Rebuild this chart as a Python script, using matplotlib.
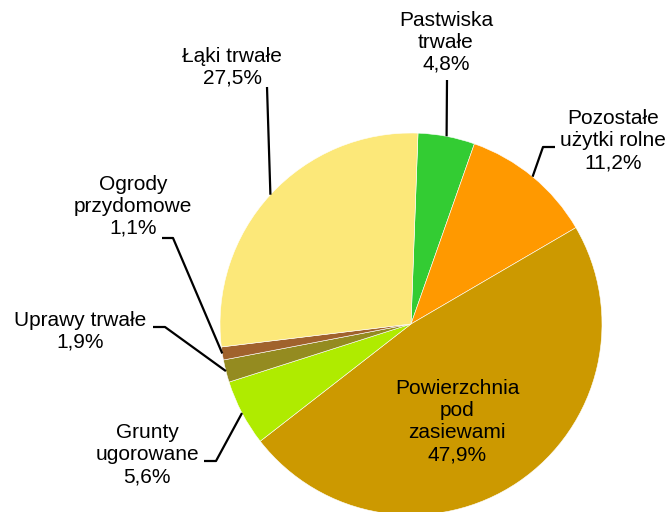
import numpy as np
import matplotlib
matplotlib.use("Agg")
import matplotlib.pyplot as plt

plt.rcParams['font.family'] = ['Liberation Sans', 'DejaVu Sans']

# udzial w powierzchni (%), kolejnosc zgodnie z ruchem wskazowek zegara od gory
labels = ["Pastwiska\ntrwałe", "Pozostałe\nużytki rolne", "Powierzchnia\npod\nzasiewami",
          "Grunty\nugorowane", "Uprawy trwałe", "Ogrody\nprzydomowe", "Łąki trwałe"]
values = [4.8, 11.2, 47.9, 5.6, 1.9, 1.1, 27.5]
colors = ["#33CC33", "#FF9900", "#CC9900", "#AFEB00", "#948B20", "#A0622D", "#FCE879"]

# polozenie na obrazku w pikselach (od lewej, od gory)
cx, cy, R = 411, 324, 191
W, H = 671, 512

# pozycja tekstu i punkt zalamania linii (None = brak linii)
text_pos = [(446, 42), (613, 141), (457, 422), (147, 455), (80, 331), (133, 206), (232, 67)]
elbows = [[(447, 80)], [(543, 147), (555, 147)], None, [(216, 461), (204, 461)],
          [(165, 327), (153, 327)], [(173, 238), (162, 238)], [(267, 87)]]


def px(p):
    return p[0] - cx, cy - p[1]


fig = plt.figure(figsize=(W / 100, H / 100), dpi=100)
ax = fig.add_axes([0, 0, 1, 1])
wedges, _ = ax.pie(values, colors=colors, radius=R, startangle=87.9, counterclock=False,
                   wedgeprops=dict(edgecolor="white", linewidth=0.4))
ax.set_xlim(-cx, W - cx)
ax.set_ylim(cy - H, cy)
ax.set_aspect('equal')
ax.axis('off')

for w, lab, v, tp, el in zip(wedges, labels, values, text_pos, elbows):
    s = lab + "\n" + ("%.1f%%" % v).replace(".", ",")
    tx, ty = px(tp)
    ax.text(tx, ty, s, ha='center', va='center', multialignment='center',
            fontsize=15, linespacing=1.2, color='black')
    if el is None:
        continue
    mid = np.deg2rad((w.theta1 + w.theta2) / 2)
    xs = [R * np.cos(mid)] + [px(p)[0] for p in el]
    ys = [R * np.sin(mid)] + [px(p)[1] for p in el]
    ax.plot(xs, ys, color='black', lw=1.6, solid_capstyle='butt')

fig.savefig("out.png", dpi=100)
